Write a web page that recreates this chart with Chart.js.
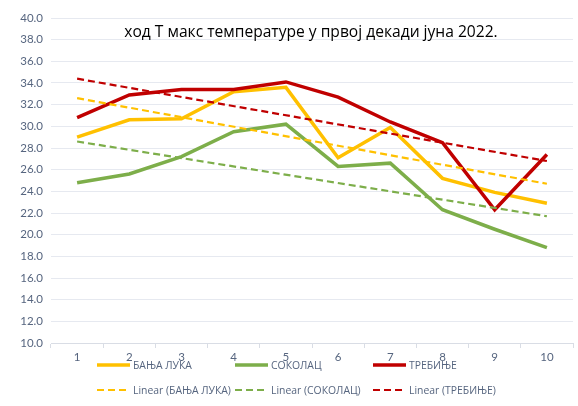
<!DOCTYPE html>
<html>
<head>
<meta charset="utf-8">
<script src="https://cdn.jsdelivr.net/npm/chart.js@4"></script>
<style>
  html, body { margin: 0; padding: 0; background: #fff; }
  #wrap { width: 578px; height: 406px; position: relative; }
</style>
</head>
<body>
<div id="wrap"><canvas id="canvas" width="578" height="406"></canvas></div>
<script>
// days of the first decade of June
const days = ['1', '2', '3', '4', '5', '6', '7', '8', '9', '10'];

// max temperature per station
const banjaLuka = [29.0, 30.6, 30.7, 33.2, 33.6, 27.1, 29.9, 25.2, 23.9, 22.9];
const sokolac = [24.8, 25.6, 27.2, 29.5, 30.2, 26.3, 26.6, 22.3, 20.5, 18.8];
const trebinje = [30.8, 32.9, 33.4, 33.4, 34.1, 32.7, 30.4, 28.5, 22.3, 27.4];

// linear trend end values (day 1, day 10)
const trendBanjaLuka = [32.6, 24.7];
const trendSokolac = [28.6, 21.7];
const trendTrebinje = [34.4, 26.8];

const stationNames = ['БАЊА ЛУКА', 'СОКОЛАЦ', 'ТРЕБИЊЕ'];
const chartTitle = 'ход Т макс температуре у првој декади јуна 2022.';

const colors = {
    yellow: '#FFC000',
    green: '#7DAE4A',
    red: '#C00000',
};
const tickColor = '#56657F';
const tickFont = "Lato, 'Open Sans', sans-serif";
const textFont = "'Open Sans', 'Noto Sans', sans-serif";

function trendData(ends) {
    return days.map((d, i) => (i === 0 ? ends[0] : i === days.length - 1 ? ends[1] : null));
}

function mainSet(label, data, color, order) {
    return {
        label: label,
        data: data,
        borderColor: color,
        backgroundColor: color,
        borderWidth: 3.5,
        pointRadius: 0,
        tension: 0,
        fill: false,
        order: order,
    };
}

function trendSet(label, ends, color) {
    return {
        label: 'Linear (' + label + ')',
        data: trendData(ends),
        borderColor: color,
        backgroundColor: color,
        borderWidth: 2.2,
        borderDash: [7, 4],
        pointRadius: 0,
        spanGaps: true,
        fill: false,
        order: 0,
    };
}

// title drawn over the plot like the excel overlay title
const titlePlugin = {
    id: 'overlayTitle',
    afterDraw(chart) {
        const ctx = chart.ctx;
        ctx.save();
        ctx.font = '15.6px ' + textFont;
        ctx.fillStyle = '#000';
        ctx.textAlign = 'center';
        ctx.textBaseline = 'middle';
        ctx.fillText(chartTitle, 311, 33);
        ctx.restore();
    },
};

// two-row legend in three columns
const legendPlugin = {
    id: 'gridLegend',
    afterDraw(chart) {
        const ctx = chart.ctx;
        const colX = [97, 235, 373];
        const rowY = [365, 390];
        ctx.save();
        ctx.font = '10.4px ' + textFont;
        ctx.textBaseline = 'middle';
        ctx.textAlign = 'left';
        chart.data.datasets.forEach((ds, i) => {
            const col = i % 3;
            const row = Math.floor(i / 3);
            const x = colX[col];
            const y = rowY[row];
            ctx.strokeStyle = ds.borderColor;
            ctx.lineWidth = ds.borderDash ? 2.2 : 3.5;
            ctx.setLineDash(ds.borderDash || []);
            ctx.beginPath();
            ctx.moveTo(x, y);
            ctx.lineTo(x + 33, y);
            ctx.stroke();
            ctx.setLineDash([]);
            ctx.fillStyle = tickColor;
            ctx.fillText(ds.label, x + 36, y + 1);
        });
        ctx.restore();
    },
};

const ctx = document.getElementById('canvas');
const chart = new Chart(ctx, {
    type: 'line',
    data: {
        labels: days,
        datasets: [
            mainSet(stationNames[0], banjaLuka, colors.yellow, 3),
            mainSet(stationNames[1], sokolac, colors.green, 2),
            mainSet(stationNames[2], trebinje, colors.red, 1),
            trendSet(stationNames[0], trendBanjaLuka, colors.yellow),
            trendSet(stationNames[1], trendSokolac, colors.green),
            trendSet(stationNames[2], trendTrebinje, colors.red),
        ],
    },
    options: {
        responsive: false,
        animation: false,
        layout: {
            padding: { top: 18, right: 5, left: 0, bottom: 0 },
        },
        plugins: {
            legend: { display: false },
            title: { display: false },
            tooltip: { enabled: false },
        },
        scales: {
            x: {
                offset: true,
                grid: {
                    offset: true,
                    drawOnChartArea: false,
                    tickLength: 5,
                    color: '#D9DDE5',
                },
                border: { color: '#D9DDE5' },
                ticks: {
                    color: tickColor,
                    font: { family: tickFont, size: 11.5 },
                    padding: 2,
                    maxRotation: 0,
                },
                afterFit(scale) {
                    scale.height = 63;
                },
            },
            y: {
                min: 10,
                max: 40,
                ticks: {
                    stepSize: 2,
                    color: tickColor,
                    font: { family: tickFont, size: 11.5 },
                    padding: 8,
                    callback: (v) => v.toFixed(1),
                },
                grid: {
                    color: '#E6E9F0',
                    drawTicks: false,
                },
                border: { display: false },
                afterFit(scale) {
                    scale.width = 51;
                },
            },
        },
    },
    plugins: [titlePlugin, legendPlugin],
});
</script>
</body>
</html>
